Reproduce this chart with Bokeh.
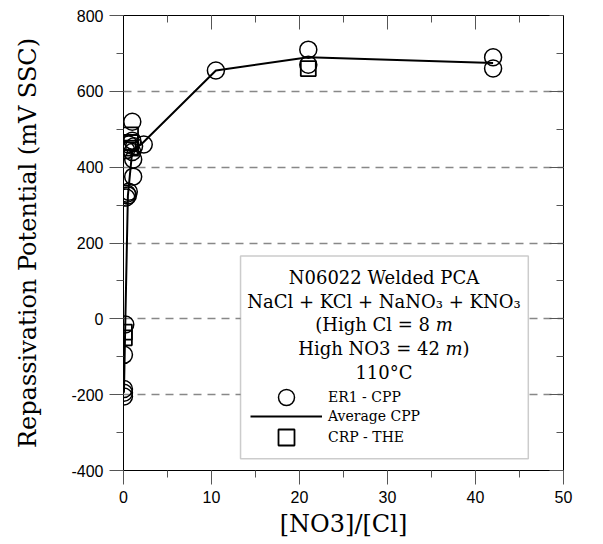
from bokeh.plotting import figure
from bokeh.models import (LinearAxis, SingleIntervalTicker, Range1d, Legend, LegendItem,
                          Label, BoxAnnotation, CustomJSTickFormatter)
from bokeh.embed import file_html
from bokeh.resources import INLINE

# ---- data ----
er1_x = [0.05, 0.05, 0.05, 0.05, 0.2, 0.3, 0.4, 0.5, 0.6, 0.3, 0.6, 1.0, 1.0, 1.0, 1.1, 1.1, 1.2, 2.3,
         10.5, 21, 21, 42, 42]
er1_y = [-205, -195, -185, -95, -15, 320, 330, 325, 335, 445, 460, 520, 470, 440, 420, 375, 455, 460,
         655, 710, 670, 690, 660]
crp_x = [0.1, 0.1, 0.8, 0.8, 0.8, 21]
crp_y = [-35, -50, 485, 465, 450, 660]
avg_x = [0.05, 0.2, 0.5, 1.0, 2.0, 10.5, 21, 42]
avg_y = [-195, -15, 325, 445, 460, 655, 690, 675]

x_ticks_interval = 10
y_ticks_interval = 200

SERIF = "DejaVu Serif"
SANS = "Liberation Sans"

p = figure(frame_width=440, frame_height=455, x_range=Range1d(0, 50), y_range=Range1d(-400, 800),
           output_backend="svg", toolbar_location=None,
           min_border_left=123, min_border_top=15, min_border_right=20, min_border_bottom=66)
p.background_fill_color = "white"
p.outline_line_color = "black"

num_fmt = CustomJSTickFormatter(code="return tick.toFixed(0)")
for ax, iv in ((p.xaxis[0], x_ticks_interval), (p.yaxis[0], y_ticks_interval)):
    ax.ticker = SingleIntervalTicker(interval=iv, num_minor_ticks=2)
    ax.formatter = num_fmt
    ax.major_tick_out = 14
    ax.major_tick_in = 0
    ax.minor_tick_out = 7
    ax.minor_tick_in = 0
    ax.major_tick_line_color = "#555555"
    ax.minor_tick_line_color = "#555555"
    ax.axis_line_color = "black"
    ax.major_label_text_font = SANS
    ax.major_label_text_font_size = "16px"
    ax.major_label_text_color = "black"
    ax.major_label_standoff = 6
    ax.axis_label_text_font = SERIF
    ax.axis_label_text_font_size = "24px"
    ax.axis_label_text_font_style = "normal"
    ax.axis_label_text_color = "black"

p.xaxis.axis_label = "[NO3]/[Cl]"
p.yaxis.axis_label = "Repassivation Potential (mV SSC)"
p.xaxis.axis_label_standoff = 4
p.yaxis.axis_label_standoff = 26

blank = CustomJSTickFormatter(code="return ''")
top = LinearAxis(ticker=SingleIntervalTicker(interval=x_ticks_interval, num_minor_ticks=2),
                 formatter=blank, major_tick_in=14, major_tick_out=0, minor_tick_in=7, minor_tick_out=0,
                 major_label_text_font_size="1px", major_label_standoff=0,
                 major_tick_line_color="#555555", minor_tick_line_color="#555555", axis_line_color="black")
right = LinearAxis(ticker=SingleIntervalTicker(interval=y_ticks_interval, num_minor_ticks=2),
                   formatter=blank, major_tick_in=14, major_tick_out=0, minor_tick_in=7, minor_tick_out=0,
                   major_label_text_font_size="1px", major_label_standoff=0,
                   major_tick_line_color="#555555", minor_tick_line_color="#555555", axis_line_color="black")
p.add_layout(top, "above")
p.add_layout(right, "right")

p.xgrid.grid_line_color = None
p.ygrid.grid_line_color = "#888888"
p.ygrid.grid_line_dash = "8 6"
p.ygrid.grid_line_width = 1.5

# legend box
box = BoxAnnotation(left=13.3, right=46.0, top=166, bottom=-369, fill_color="white", fill_alpha=1,
                    line_color="#555555", line_width=1.5, level="underlay")
p.add_layout(box)

line_r = p.line(avg_x, avg_y, line_color="black", line_width=2)
circ_r = p.scatter(er1_x, er1_y, marker="circle", size=17, fill_color=None, line_color="black",
                   line_width=1.5)
sq_r = p.scatter(crp_x, crp_y, marker="square", size=15, fill_color=None, line_color="black",
                 line_width=1.8)

def add_entry(label, renderer, bottom):
    lg = Legend(items=[LegendItem(label=label, renderers=[renderer])],
                location=(127, bottom), glyph_width=72, glyph_height=40, spacing=0,
                padding=0, margin=0, label_standoff=6, label_height=20,
                label_text_font=SERIF, label_text_font_size="14px", label_text_color="black",
                border_line_alpha=0, background_fill_alpha=0)
    p.add_layout(lg, "center")

add_entry("ER1 - CPP", circ_r, 53)
add_entry("Average CPP", line_r, 34)
add_entry("CRP - THE", sq_r, 13)

# legend title lines
def lbl(x, y, text, align="center", style="normal"):
    p.add_layout(Label(x=x, y=y, text=text, text_align=align, text_baseline="alphabetic",
                       text_font=SERIF, text_font_size="18px", text_font_style=style,
                       text_color="black"))

cx = 29.6
lbl(cx, 110, "N06022 Welded PCA")
lbl(cx, 47, "NaCl + KCl + NaNO\u2083 + KNO\u2083")
lbl(35.48, -16, "(High Cl = 8 ", align="right")
lbl(35.48, -16, "m", align="left", style="italic")
lbl(36.6, -79, "High NO3 = 42 ", align="right")
lbl(36.6, -79, "m", align="left", style="italic")
lbl(38.53, -79, ")", align="left")
lbl(cx, -141, "110\u00b0C")

open("out.html", "w").write(file_html(p, INLINE))
